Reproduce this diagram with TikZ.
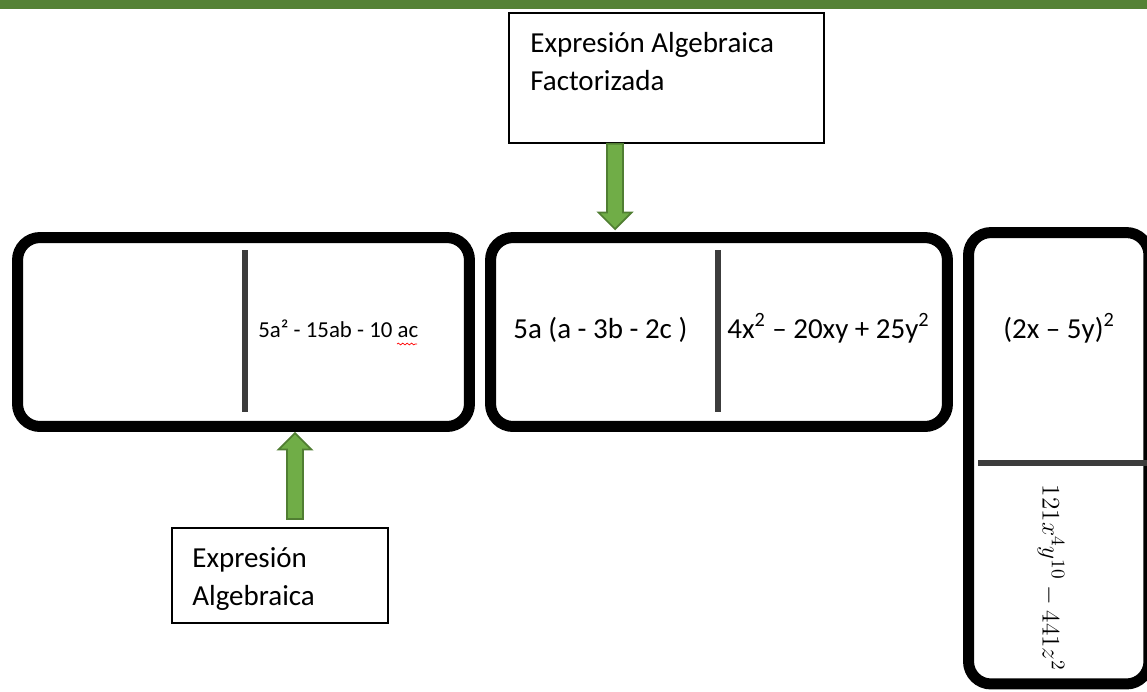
\documentclass[tikz,border=0pt]{standalone}
\usepackage{fontspec}
\setmainfont{Carlito}
\usepackage{tikz}
\usetikzlibrary{calc}
\usetikzlibrary{decorations.pathmorphing}
\definecolor{bargreen}{HTML}{548235}
\definecolor{arrowgreen}{HTML}{70AD47}
\definecolor{arrowedge}{HTML}{507E32}
\definecolor{dividergray}{HTML}{3C3C3C}
\tikzset{domino/.style={draw, line width=0.22cm, rounded corners=0.45cm}}
\tikzset{divider/.style={draw=dividergray, line width=0.13cm}}
\tikzset{labelbox/.style={draw, line width=0.8pt}}
\tikzset{entry/.style={anchor=base west, inner sep=0pt, font=\fontsize{16.5}{20}\selectfont}}
\tikzset{blockarrow/.style={fill=arrowgreen, draw=arrowedge, line width=1pt}}

% block arrow from #1 to tip #2
\newcommand{\greenarrow}[2]{%
  \coordinate (hb) at ($(#2)!0.33cm!(#1)$);
  \draw[blockarrow] ($(#1)!0.16cm!90:(#2)$) -- ($(hb)!0.16cm!90:(#2)$) -- ($(hb)!0.33cm!90:(#2)$) -- (#2)
    -- ($(hb)!0.33cm!-90:(#2)$) -- ($(hb)!0.16cm!-90:(#2)$) -- ($(#1)!0.16cm!-90:(#2)$) -- cycle;}

\begin{document}
\begin{tikzpicture}[x=0.02cm, y=-0.02cm]      % 1 unit = 1 px of the sheet
    \path[use as bounding box] (0, 0) rectangle (1147, 691);
    \fill[bargreen] (0, 0) rectangle (1147, 8.5);

    % dominoes
    \node[domino, minimum width=9.04cm, minimum height=3.78cm] at (243.5, 332) (tileA) {};
    \node[domino, minimum width=9.14cm, minimum height=3.78cm] at (719, 332) (tileB) {};
    \node[domino, minimum width=3.61cm, minimum height=9.03cm] at (1058.75, 458.25) (tileC) {};

    \draw[divider, shorten <=0.36cm, shorten >=0.4cm] ([xshift=0.03cm]tileA.north) -- ([xshift=0.03cm]tileA.south);
    \draw[divider, shorten <=0.36cm, shorten >=0.4cm] ([xshift=-0.02cm]tileB.north) -- ([xshift=-0.02cm]tileB.south);
    \draw[divider] (978, 463) -- (1147, 463);

    \node[entry, font=\fontsize{13}{16}\selectfont] at (258, 337) (expA) {5a² - 15ab - 10 ac};
    \draw[red, decorate, decoration={snake, amplitude=0.5pt, segment length=2.5pt}] (397, 344) -- (417, 344);
    \node[entry] at (513, 338) (factA) {5a (a - 3b - 2c )};
    \node[entry] at (727, 338) (expB) {4x\textsuperscript{2} – 20xy + 25y\textsuperscript{2}};
    \node[entry] at (1003, 338) (factB) {(2x – 5y)\textsuperscript{2}};
    \node[rotate=-90, inner sep=0pt, font=\fontsize{15}{18}\selectfont] at (1051, 578) (expC) {$121x^4y^{10} - 441z^2$};

    % labels
    \node[labelbox, minimum width=6.3cm, minimum height=2.6cm] at (666.5, 78) (factbox) {};
    \node[entry] at (530, 52) (fact1) {Expresión Algebraica};
    \node[entry] at (530, 90) (fact2) {Factorizada};

    \node[labelbox, minimum width=4.32cm, minimum height=1.9cm] at (280, 575.5) (exprbox) {};
    \node[entry] at (192, 567) (expr1) {Expresión};
    \node[entry] at (192, 605) (expr2) {Algebraica};

    % arrows
    \coordinate (downtip) at (615, 229);
    \coordinate (downstart) at (factbox.south -| downtip);
    \greenarrow{downstart}{downtip}
    \coordinate (uptip) at (295, 433);
    \coordinate (upstart) at (295, 519);
    \greenarrow{upstart}{uptip}
\end{tikzpicture}
\end{document}
